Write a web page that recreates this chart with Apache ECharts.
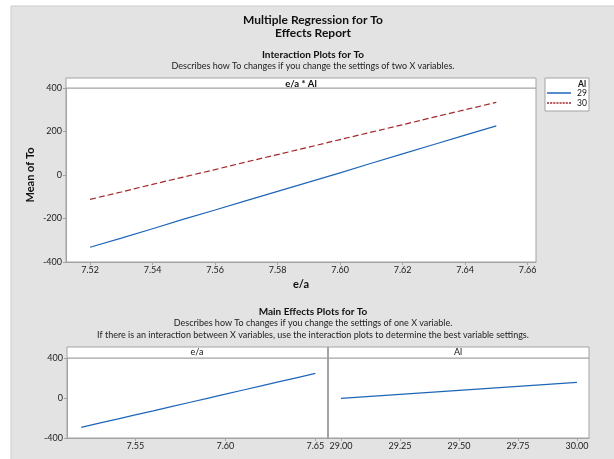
<!DOCTYPE html>
<html><head><meta charset="utf-8">
<script src="https://cdn.jsdelivr.net/npm/echarts@6/dist/echarts.min.js"></script>
<style>html,body{margin:0;padding:0;background:#fff}#c{width:614px;height:459px}</style>
</head><body><div id="c"></div>
<script>
// ---- data ----
const eaValues = [7.52,7.53,7.54,7.55,7.56,7.57,7.58,7.59,7.60,7.61,7.62,7.63,7.64,7.65];
const interAl29 = [-332,-290,-247,-203,-161,-118,-75,-33,10,54,97,140,183,226];
const interAl30 = [-112,-78,-43,-9,25,60,94,128,163,197,231,266,300,334];
const mainEa = [-294,-252,-211,-169,-128,-86,-45,-3,38,80,121,163,204,246];
const alValues = [29.00,29.25,29.50,29.75,30.00];
const mainAl = [-4,36,76,116,156];
const topXTicks = [7.52,7.54,7.56,7.58,7.60,7.62,7.64,7.66];
const eaTicks = [7.55,7.60,7.65];
const alTicks = [29.00,29.25,29.50,29.75,30.00];
const legendNames = ['29','30'];

const FONT = 'Lato';
const BLUE = '#1f66b8';
const RED = '#a3262a';
const GRAY = '#a3a3a3';
const CX = 313;
const pair = (xs, ys) => xs.map((x,i)=>[x, ys[i]]);

const labelStyle = {color:'#222',fontSize:9,fontFamily:FONT,margin:4};
function xAx(gi, min, max, ticks){
  return {gridIndex:gi,type:'value',min:min,max:max,
    axisLine:{show:true,onZero:false,lineStyle:{color:GRAY,width:1}},
    axisTick:{show:true,length:3,lineStyle:{color:GRAY},customValues:ticks},
    axisLabel:Object.assign({},labelStyle,{customValues:ticks,formatter:v=>v.toFixed(2)}),
    splitLine:{show:false}};
}
function yAx(gi, interval, showLabels){
  return {gridIndex:gi,type:'value',min:-400,max:400,interval:interval,
    axisLine:{show:true,onZero:false,lineStyle:{color:GRAY,width:1}},
    axisTick:{show:showLabels,length:3,lineStyle:{color:GRAY}},
    axisLabel:Object.assign({},labelStyle,{show:showLabels}),
    splitLine:{show:false}};
}
const dotted = 'path://M0,0h2v1h-2z M3,0h2v1h-2z M6,0h2v1h-2z M9,0h2v1h-2z M12,0h2v1h-2z M15,0h2v1h-2z M18,0h2v1h-2z M21,0h2v1h-2z';

const chart = echarts.init(document.getElementById('c'));
chart.setOption({
  backgroundColor:'#ffffff',
  animation:false,
  textStyle:{fontFamily:FONT},
  graphic:[
    {type:'rect',z:-100,silent:true,shape:{x:11,y:6,width:620,height:470},style:{fill:'#e3e3e3',stroke:'#cdcdcd',lineWidth:1}},
    {type:'text',x:CX,y:14,style:{text:'Multiple Regression for To',font:'bold 12px '+FONT,fill:'#111',align:'center'}},
    {type:'text',x:CX,y:27,style:{text:'Effects Report',font:'bold 12px '+FONT,fill:'#111',align:'center'}},
    {type:'text',x:CX,y:50,style:{text:'Interaction Plots for To',font:'bold 10px '+FONT,fill:'#111',align:'center'}},
    {type:'text',x:CX,y:62,style:{text:'Describes how To changes if you change the settings of two X variables.',font:'9px '+FONT,fill:'#222',align:'center'}},
    // top strip
    {type:'rect',shape:{x:66,y:78,width:470,height:10},style:{fill:'#fff',stroke:GRAY,lineWidth:1}},
    {type:'text',x:301,y:83.5,style:{text:'e/a * Al',font:'bold 9.5px '+FONT,fill:'#111',align:'center',verticalAlign:'middle'}},
    // axis titles
    {type:'text',x:30,y:175,rotation:Math.PI/2,style:{text:'Mean of To',font:'bold 11px '+FONT,fill:'#111',align:'center',verticalAlign:'middle'}},
    {type:'text',x:301,y:284,style:{text:'e/a',font:'bold 11px '+FONT,fill:'#111',align:'center',verticalAlign:'middle'}},
    // legend box
    {type:'rect',shape:{x:545,y:78,width:44,height:33},style:{fill:'#fff',stroke:GRAY,lineWidth:1}},
    {type:'text',x:586,y:84.5,style:{text:'Al',font:'bold 8.5px '+FONT,fill:'#111',align:'right',verticalAlign:'middle'}},
    // main effects titles
    {type:'text',x:CX,y:307,style:{text:'Main Effects Plots for To',font:'bold 10px '+FONT,fill:'#111',align:'center'}},
    {type:'text',x:CX,y:319,style:{text:'Describes how To changes if you change the settings of one X variable.',font:'9px '+FONT,fill:'#222',align:'center'}},
    {type:'text',x:CX,y:331,style:{text:'If there is an interaction between X variables, use the interaction plots to determine the best variable settings.',font:'9px '+FONT,fill:'#222',align:'center'}},
    // bottom strips
    {type:'rect',shape:{x:67,y:347,width:261,height:11},style:{fill:'#fff',stroke:GRAY,lineWidth:1}},
    {type:'rect',shape:{x:328,y:347,width:261,height:11},style:{fill:'#fff',stroke:GRAY,lineWidth:1}},
    {type:'text',x:197,y:352.5,style:{text:'e/a',font:'9px '+FONT,fill:'#111',align:'center',verticalAlign:'middle'}},
    {type:'text',x:458,y:352.5,style:{text:'Al',font:'9px '+FONT,fill:'#111',align:'center',verticalAlign:'middle'}},
    {type:'line',z:100,shape:{x1:328,y1:347,x2:328,y2:438},style:{stroke:GRAY,lineWidth:2}}
  ],
  legend:{
    data:[{name:'29',icon:'rect'},{name:'30',icon:dotted}],
    orient:'vertical', left:547, top:88, itemWidth:24, itemHeight:1.5, itemGap:0,
    symbolKeepAspect:false,
    itemStyle:{borderWidth:0},
    textStyle:{fontSize:8.5,fontFamily:FONT,color:'#111',padding:[0,0,0,1],lineHeight:10}, padding:0, selectedMode:false
  },
  grid:[
    {left:66,top:88,width:470,height:174,show:true,backgroundColor:'#fff',borderColor:GRAY,borderWidth:1},
    {left:67,top:358,width:261,height:80,show:true,backgroundColor:'#fff',borderColor:GRAY,borderWidth:1},
    {left:328,top:358,width:261,height:80,show:true,backgroundColor:'#fff',borderColor:GRAY,borderWidth:1}
  ],
  xAxis:[
    xAx(0,7.5123,7.6627,topXTicks),
    xAx(1,7.5121,7.657,eaTicks),
    xAx(2,28.945,30.051,alTicks)
  ],
  yAxis:[ yAx(0,200,true), yAx(1,400,true), yAx(2,400,false) ],
  series:[
    {name:'29',type:'line',xAxisIndex:0,yAxisIndex:0,symbol:'none',data:pair(eaValues,interAl29),
      lineStyle:{color:BLUE,width:1.2},itemStyle:{color:BLUE}},
    {name:'30',type:'line',xAxisIndex:0,yAxisIndex:0,symbol:'none',data:pair(eaValues,interAl30),
      lineStyle:{color:RED,width:1.2,type:[6,3]},itemStyle:{color:RED}},
    {name:'e/a',type:'line',xAxisIndex:1,yAxisIndex:1,symbol:'none',data:pair(eaValues,mainEa),
      lineStyle:{color:BLUE,width:1.2}},
    {name:'Al',type:'line',xAxisIndex:2,yAxisIndex:2,symbol:'none',data:pair(alValues,mainAl),
      lineStyle:{color:BLUE,width:1.2}}
  ]
});
</script></body></html>
